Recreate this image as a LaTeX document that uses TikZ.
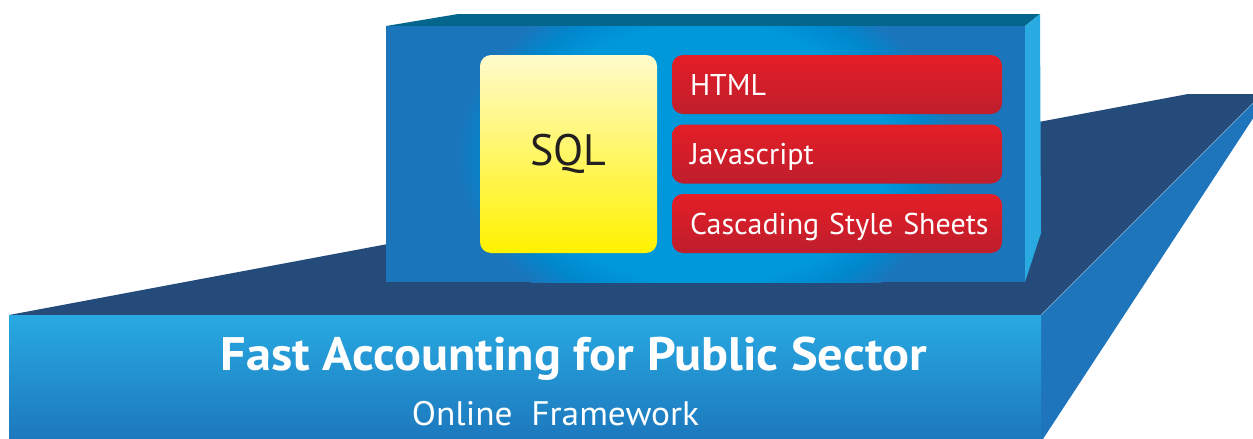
\documentclass[tikz,border=0pt]{standalone}
\usepackage{fontspec}
\setmainfont{PT Sans}
\newfontfamily\titlefont[FakeStretch=1.07]{PT Sans}
\newfontfamily\subfont[FakeStretch=1.04]{PT Sans}
\definecolor{platTop}{HTML}{244B79}
\definecolor{platSide}{HTML}{1E75BC}
\definecolor{platFrontT}{HTML}{28A9E1}
\definecolor{platFrontB}{HTML}{1C76BC}
\definecolor{boxblue}{HTML}{1B75BB}
\definecolor{glowc}{HTML}{0098DA}
\definecolor{glowm}{HTML}{0088CD}
\definecolor{boxTop}{HTML}{05668D}
\definecolor{boxSide}{HTML}{29ABE2}
\definecolor{redT}{HTML}{E41E26}
\definecolor{redB}{HTML}{BE1E2D}
\definecolor{yelT}{HTML}{FFFBCC}
\definecolor{yelB}{HTML}{FFF200}
\definecolor{sqltext}{HTML}{231F20}
\pgfdeclareradialshading{boxglow}{\pgfpoint{0bp}{0bp}}{color(0bp)=(glowc); color(18bp)=(glowc); color(21.5bp)=(glowm); color(25bp)=(boxblue); color(50bp)=(boxblue)}
\tikzset{
  redbox/.style={rounded corners=11pt, top color=redT, bottom color=redB,
    minimum width=330pt, minimum height=59pt, text width=294pt, align=left,
    inner xsep=18pt, inner ysep=0pt, text height=21pt, text depth=0pt,
    text=white, font=\fontsize{30}{30}\selectfont},
  sqlbox/.style={rounded corners=11pt, top color=yelT, bottom color=yelB,
    minimum width=177pt, minimum height=198pt, inner sep=0pt,
    text=sqltext, font=\fontsize{44}{44}\selectfont},
  title/.style={text=white, inner sep=0pt, anchor=base, font=\titlefont\bfseries\fontsize{47}{47}\selectfont},
  subtitle/.style={text=white, inner sep=0pt, anchor=base, font=\subfont\fontsize{34}{34}\selectfont}
}
\begin{document}
\begin{tikzpicture}[x=1pt,y=-1pt]
\useasboundingbox (0,0) rectangle (1253,439);
\begin{scope}
\clip (0,0) rectangle (1253,439);
% platform
\fill[platTop] (9,315) -- (1041,315) -- (1262,94) -- (1188,94) -- cycle;
\fill[platSide] (1041,315) -- (1262,94) -- (1269,94) -- (1043,439) -- (1041,445) -- cycle;
\draw[white!45!platSide, line width=0.6pt] (1041,315) -- (1262,94);
\shade[top color=platFrontT, bottom color=platFrontB] (9,315) rectangle (1041,445);
% box
\fill[boxTop] (386,26) -- (458,14) -- (1040,14) -- (1025,26) -- cycle;
\fill[boxSide] (1025,26) -- (1040,14) -- (1041,233) -- (1025,282) -- cycle;
\fill[boxblue] (386,26) rectangle (1025,282);
\begin{scope}
\clip (386,26) rectangle (1025,282);
\shade[shading=boxglow] (706,154) ellipse [x radius=250, y radius=180];
\end{scope}
\end{scope}
\node[sqlbox] (sql) at (568.5,154) {SQL};
\node[redbox] (html) at (837,84.5) {HTML};
\node[redbox] (js) at (837,154) {Javascript};
\node[redbox] (css) at (837,223.5) {\mbox{Cascading Style Sheets}};
\node[title] (t1) at (574,370) {Fast Accounting for Public Sector};
\node[subtitle] (t2) at (555.5,425) {Online\ \ Framework};
\end{tikzpicture}
\end{document}
